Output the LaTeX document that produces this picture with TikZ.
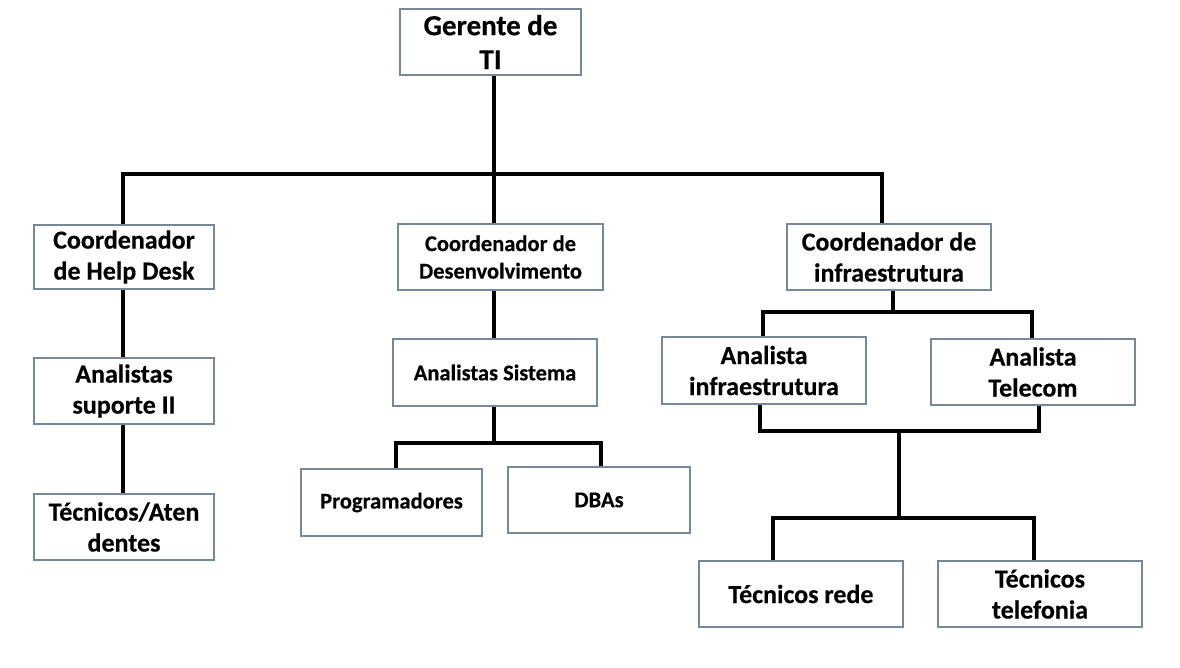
\documentclass[tikz,border=0pt]{standalone}
\usepackage{fontspec}
\setmainfont{Carlito}[BoldFeatures={FakeBold=0.4}]
\definecolor{boxc}{RGB}{118,136,156}
\begin{document}
\begin{tikzpicture}[x=1pt,y=-1pt,
  box/.style={draw=boxc, line width=1.3pt, fill=white, align=center, inner sep=0pt,
    font=\bfseries\fontsize{26}{31}\selectfont},
  bigbox/.style={box, font=\bfseries\fontsize{29}{34}\selectfont},
  smallbox/.style={box, font=\bfseries\fontsize{22.5}{27.5}\selectfont},
  conn/.style={line width=3.8pt, black, line join=miter}]
\useasboundingbox (0,0) rectangle (1180,668);
% nodes
\node[bigbox, minimum width=181, minimum height=66] (ger) at (490.5,42) {Gerente de\\TI};
\node[box, minimum width=180, minimum height=64] (chd) at (124,257) {Coordenador\\de Help Desk};
\node[smallbox, minimum width=205, minimum height=66] (cds) at (500.5,257) {Coordenador de\\Desenvolvimento};
\node[box, minimum width=204, minimum height=66] (cin) at (889,257) {Coordenador de\\infraestrutura};
\node[box, minimum width=180, minimum height=66] (ans) at (124,391) {Analistas\\suporte II};
\node[box, minimum width=180, minimum height=66] (tec) at (124,527) {Técnicos/Aten\\dentes};
\node[smallbox, minimum width=204, minimum height=67] (asi) at (495,372.5) {Analistas Sistema};
\node[smallbox, minimum width=181, minimum height=67] (prg) at (391.5,502.5) {Programadores};
\node[smallbox, minimum width=182, minimum height=66] (dba) at (599,500) {DBAs};
\node[box, minimum width=204, minimum height=67] (ain) at (764,370.5) {Analista\\infraestrutura};
\node[box, minimum width=204, minimum height=66] (ate) at (1033,372) {Analista\\Telecom};
\node[box, minimum width=204, minimum height=66] (trd) at (801,594) {Técnicos rede};
\node[box, minimum width=204, minimum height=66] (ttf) at (1040,594) {Técnicos\\telefonia};
% junction coordinates
\coordinate (j0) at (494,174);
\coordinate (jl) at (123,174);
\coordinate (jr) at (882,174);
\coordinate (d1) at (494,443);
\coordinate (d1l) at (396,443);
\coordinate (d1r) at (601,443);
\coordinate (i1) at (893,312);
\coordinate (i1l) at (763,312);
\coordinate (i1r) at (1032,312);
\coordinate (b1l) at (760,431);
\coordinate (b1r) at (1039,431);
\coordinate (b1m) at (899,431);
\coordinate (t1) at (899,518);
\coordinate (t1l) at (773,518);
\coordinate (t1r) at (1034,518);
% connectors
\draw[conn] (ger.south -| j0) -- (j0);
\draw[conn] (chd.north -| jl) -- (jl) -- (jr) -- (cin.north -| jr);
\draw[conn] (j0) -- (cds.north -| j0);
\draw[conn] (chd.south -| jl) -- (ans.north -| jl);
\draw[conn] (ans.south -| jl) -- (tec.north -| jl);
\draw[conn] (cds.south -| d1) -- (asi.north -| d1);
\draw[conn] (asi.south -| d1) -- (d1);
\draw[conn] (prg.north -| d1l) -- (d1l) -- (d1r) -- (dba.north -| d1r);
\draw[conn] (cin.south -| i1) -- (i1);
\draw[conn] (ain.north -| i1l) -- (i1l) -- (i1r) -- (ate.north -| i1r);
\draw[conn] (ain.south -| b1l) -- (b1l) -- (b1r) -- (ate.south -| b1r);
\draw[conn] (b1m) -- (t1);
\draw[conn] (trd.north -| t1l) -- (t1l) -- (t1r) -- (ttf.north -| t1r);
\end{tikzpicture}
\end{document}
